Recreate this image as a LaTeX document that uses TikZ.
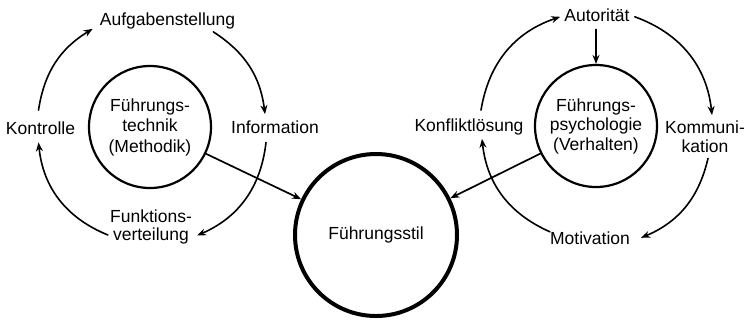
\documentclass[tikz,border=0pt]{standalone}
\usepackage{fontspec}
\setmainfont{Liberation Sans}
\usetikzlibrary{arrows.meta}
\begin{document}
\begin{tikzpicture}[x=1pt, y=1pt, font=\fontsize{17.5}{21}\selectfont, line join=round, line cap=round, >={Stealth[length=9pt,width=7pt]},
	lbl/.style={inner sep=0pt, align=center},
	kreis/.style={circle, draw, line width=2.2pt, minimum size=122pt, inner sep=0pt, align=center},
	ring/.style={->, line width=1.6pt}]
	\useasboundingbox (0,0) rectangle (749,-322);
	% Kreise
	\node[kreis, font=\fontsize{17.5}{20.5}\selectfont] (technik) at (150,-127) {Führungs-\\technik\\(Methodik)};
	\node[kreis, font=\fontsize{17.5}{19.5}\selectfont] (psycho) at (596,-126) {Führungs-\\psychologie\\(Verhalten)};
	\node[circle, draw, line width=4pt, minimum size=162pt] (stil) at (376,-235) {Führungsstil};
	% linker Ring
	\node[lbl] (aufgabe) at (167.5,-20.5) {Aufgabenstellung};
	\node[lbl] (information) at (275,-126.8) {Information};
	\node[lbl, font=\fontsize{17.5}{18}\selectfont] (funktion) at (151,-226.5) {Funktions-\\verteilung};
	\node[lbl] (kontrolle) at (40.5,-127.8) {Kontrolle};
	% rechter Ring
	\node[lbl] (autoritaet) at (597,-14.8) {Autorität};
	\node[lbl, font=\fontsize{17.5}{19}\selectfont] (kommu) at (705,-136.3) {Kommuni-\\kation};
	\node[lbl] (motivation) at (590,-237.8) {Motivation};
	\node[lbl] (konflikt) at (469,-126.5) {Konfliktlösung};
	\draw[ring] ([xshift=-2pt,yshift=11pt]kontrolle.north) to[bend left=25] ([xshift=-7pt]aufgabe.south west);
	\draw[ring] ([xshift=-22pt,yshift=-3pt]aufgabe.south east) to[bend left=25] ([xshift=-10pt,yshift=6pt]information.north);
	\draw[ring] ([xshift=-9pt,yshift=-9pt]information.south) to[bend left=30] ([xshift=5pt,yshift=-9pt]funktion.east);
	\draw[ring] ([xshift=-2pt,yshift=-8.5pt]funktion.west) to[bend left=31] ([xshift=-2pt,yshift=-8pt]kontrolle.south);
	\draw[ring] ([xshift=12pt,yshift=8pt]konflikt.north) to[bend left=31] ([xshift=-4pt,yshift=-2pt]autoritaet.west);
	\draw[ring] ([xshift=5pt,yshift=-2pt]autoritaet.east) to[bend left=32] ([xshift=7pt,yshift=5pt]kommu.north);
	\draw[ring] ([xshift=3pt,yshift=-6pt]kommu.south) to[bend left=27] ([xshift=11pt]motivation.east);
	\draw[ring] ([yshift=6pt]motivation.west) to[bend left=30] ([xshift=13pt,yshift=-4pt]konflikt.south);
	\draw[ring, shorten <=8pt] (autoritaet.south -| psycho.north) -- (psycho.north);
	% zum Führungsstil
	\draw[->, line width=1.7pt] (technik) -- (stil);
	\draw[->, line width=1.7pt] (psycho) -- (stil);
\end{tikzpicture}
\end{document}
